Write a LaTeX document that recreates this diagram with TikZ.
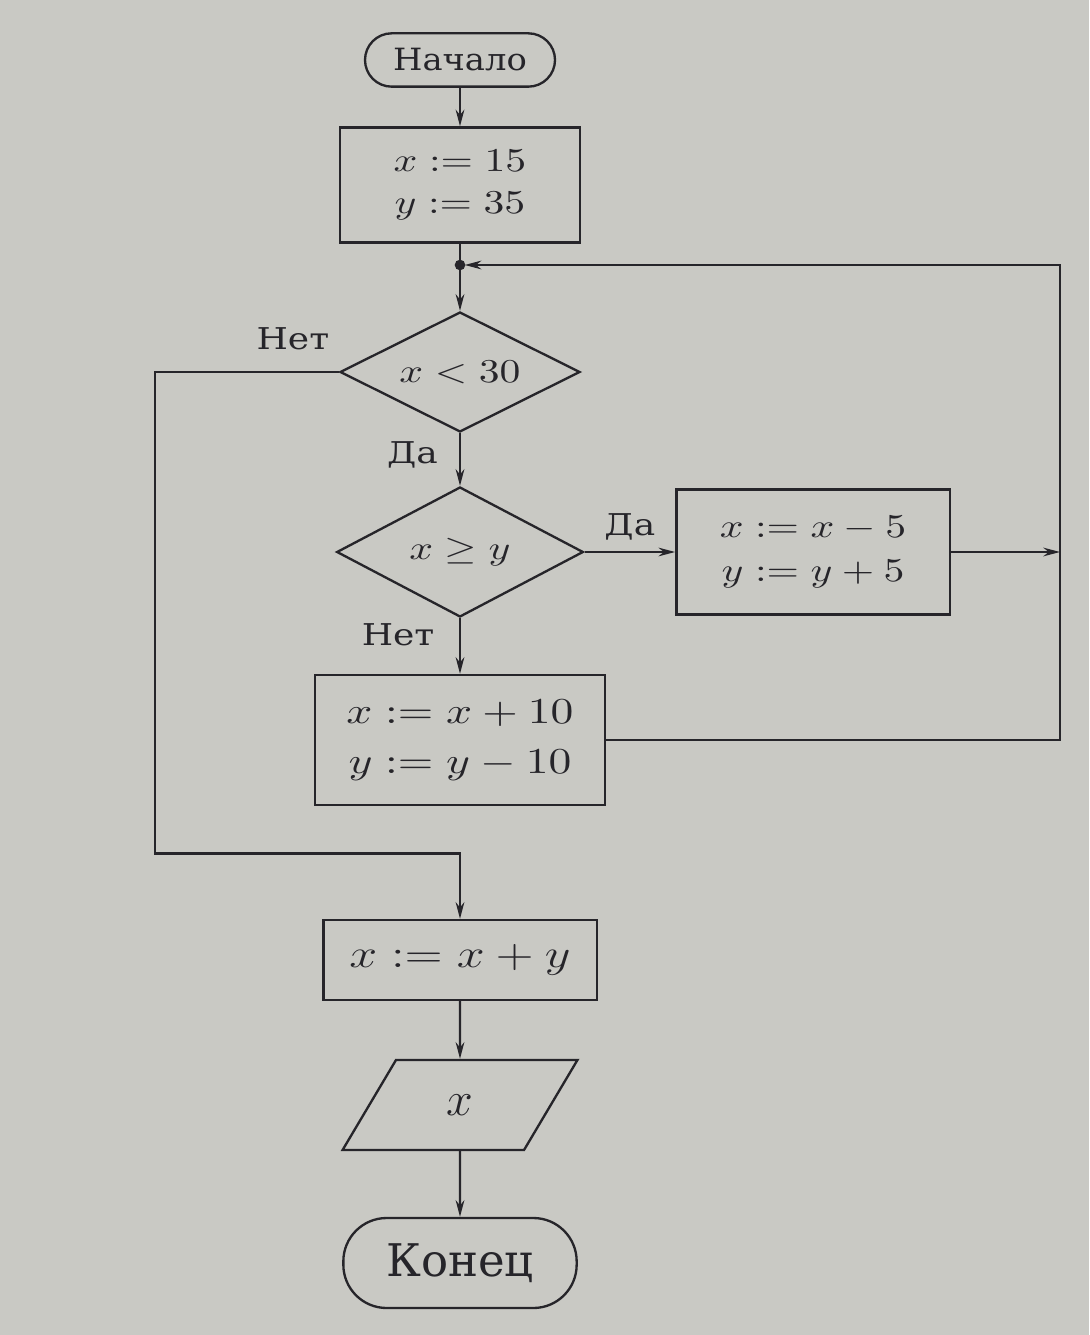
\documentclass[tikz,border=0pt]{standalone}
\usepackage[no-math]{fontspec}
\setmainfont{DejaVu Serif}
\newfontfamily\labelfont[FakeStretch=1.2]{DejaVu Serif}
\newfontfamily\startfont[FakeStretch=1.1]{DejaVu Serif}
\usepackage{graphicx}
\usetikzlibrary{shapes.geometric,arrows.meta,positioning}
\definecolor{paper}{RGB}{201,201,196}
\definecolor{ink}{RGB}{38,37,42}
\newcommand{\wm}[1]{\scalebox{1.25}[1]{$#1$}}

\begin{document}
\begin{tikzpicture}[
		color=ink, line width=0.7pt,
		node distance=50pt,
		>={Stealth[length=5pt,width=2.6pt]},
		termbox/.style={draw, rounded corners=8pt, minimum width=57pt, minimum height=16pt, inner sep=1pt},
		procbox/.style={draw, rectangle, align=center, inner sep=1pt, font=\fontsize{9.8}{12.5}\selectfont},
		condbox/.style={draw, diamond, aspect=2, inner sep=0pt, minimum width=72pt, minimum height=36pt, font=\fontsize{10}{12}\selectfont},
		iobox/.style={draw, trapezium, trapezium left angle=63, trapezium right angle=117, trapezium stretches, minimum width=70.5pt, minimum height=27pt, inner sep=1pt},
		answer/.style={font=\labelfont\fontsize{9}{11}\selectfont}
		]
		\path[use as bounding box, fill=paper] (0,0) rectangle (326.7pt,-400.5pt);

		\node[termbox, font=\startfont\fontsize{9.2}{11}\selectfont](start) at (138pt,-18pt){Начало};
		\node[procbox, minimum width=72pt, minimum height=34.5pt, below of=start, yshift=12.5pt](init){\wm{x := 15}\\\wm{y := 35}};
		\coordinate[below of=init, yshift=26pt](join);
		\node[condbox, below of=init, yshift=-6.1pt](cond1){\wm{x < 30}};
		\node[condbox, minimum width=74pt, minimum height=39pt, below of=cond1, yshift=-4pt](cond2){\wm{x \geq y}};
		\node[procbox, minimum width=82pt, minimum height=37.5pt, right of=cond2, xshift=55.9pt,
		font=\fontsize{9.8}{13}\selectfont](upd1){\wm{x := x - 5}\\\wm{y := y + 5}};
		\node[procbox, minimum width=87pt, minimum height=39pt, below of=cond2, yshift=-6.4pt,
		font=\fontsize{10.8}{15}\selectfont](upd2){\wm{x := x + 10}\\\wm{y := y - 10}};
		\node[procbox, minimum width=82pt, minimum height=24pt, below of=upd2, yshift=-16pt,
		font=\fontsize{12}{14}\selectfont](sum){\wm{x := x + y}};
		\node[iobox, below of=sum, yshift=6.5pt, font=\fontsize{14}{16}\selectfont](out){$x$};
		\node[termbox, minimum width=70pt, minimum height=27pt, rounded corners=13pt, below of=out, yshift=2.6pt,
		font=\fontsize{13.5}{16}\selectfont](stop){Конец};

		\coordinate[left of=cond1, xshift=-41.5pt](lf);
		\coordinate[above of=sum, yshift=-18pt](low);
		\coordinate[right of=upd1, xshift=24.1pt](rt);

		\draw[->] (start) -- (init);
		\draw (init) -- (join);
		\fill (join) circle (1.6pt);
		\draw[->] (join) -- (cond1);
		\draw[->] (cond1) -- (cond2) node[answer, pos=0.42, left, xshift=-3pt]{Да};
		\draw[->] (cond1.west) -- (cond1.west -| lf) node[answer, pos=0.25, above, yshift=3pt]{Нет}
		-- (lf |- low) -- (low) -- (sum);
		\draw[->] (cond2) -- (upd1) node[answer, midway, above]{Да};
		\draw[->] (cond2) -- (upd2) node[answer, pos=0.3, left, xshift=-4pt]{Нет};
		\draw[->] (upd1) -- (upd1 -| rt);
		\draw[->, shorten >=1.4pt] (upd2) -- (upd2 -| rt) -- (rt |- join) -- (join);
		\draw[->] (sum) -- (out);
		\draw[->] (out) -- (stop);
	\end{tikzpicture}
\end{document}
